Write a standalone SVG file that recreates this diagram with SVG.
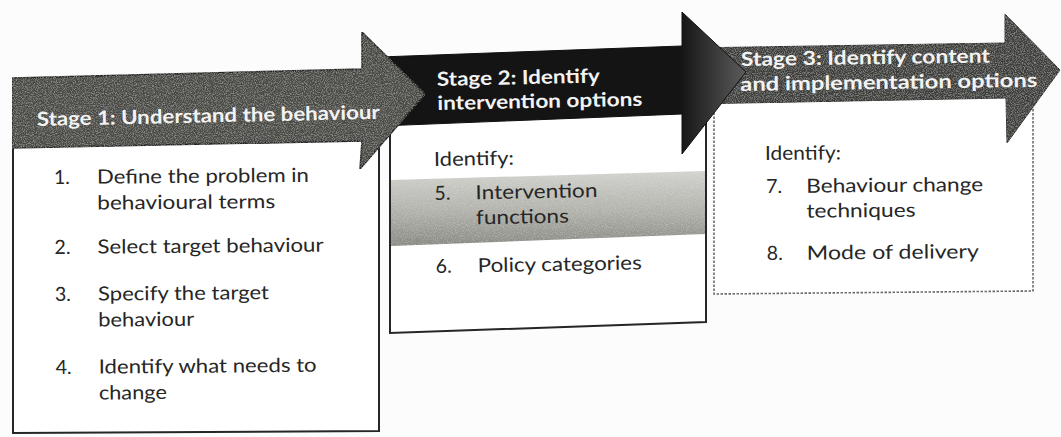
<svg xmlns="http://www.w3.org/2000/svg" width="1061" height="437" viewBox="0 0 1061 437">
  <style>
    .hd { font-family: Lato, "Open Sans", "Liberation Sans", sans-serif; font-weight: bold; font-size: 19.5px; fill: #f3f3f3; }
    .tx { font-family: Lato, "Open Sans", "Liberation Sans", sans-serif; font-size: 19.5px; fill: #262626; }
    .box { fill: #ffffff; stroke: #262626; stroke-width: 2; stroke-linejoin: miter; }
    .box-dot { fill: #ffffff; stroke: #6a6a6a; stroke-width: 1.6; stroke-dasharray: 2.5 1.5; }
  </style>
  <defs>
    <!-- faint speckle laid over the dark stage arrows -->
    <filter id="grain" x="0" y="0" width="100%" height="100%">
      <feTurbulence type="fractalNoise" baseFrequency="0.9" numOctaves="2" seed="7" result="n"/>
      <feColorMatrix in="n" type="matrix" values="0 0 0 0 0.85  0 0 0 0 0.85  0 0 0 0 0.82  0.7 0 0 0 -0.3" result="spk"/>
      <feComposite in="spk" in2="SourceGraphic" operator="in" result="spkIn"/>
      <feMerge><feMergeNode in="SourceGraphic"/><feMergeNode in="spkIn"/></feMerge>
    </filter>
    <linearGradient id="arrow2Fill" gradientUnits="userSpaceOnUse" x1="680" y1="0" x2="748" y2="0">
      <stop offset="0" stop-color="#141414"/>
      <stop offset="1" stop-color="#5e5e5e"/>
    </linearGradient>
    <linearGradient id="bandFill" x1="0" y1="0" x2="0" y2="1">
      <stop offset="0" stop-color="#d2d2ce"/>
      <stop offset="0.55" stop-color="#b0b0aa"/>
      <stop offset="1" stop-color="#888882"/>
    </linearGradient>
  </defs>

  <rect width="1061" height="437" fill="#fcfcfc"/>

  <!-- Stage 3 -->
  <g id="stage3">
    <polygon class="box-dot" points="714,100 1033,96 1033,291 714,294"/>
    <polygon points="690,48 1005,43 1005,14 1060,70 1007,143 1006,98 690,104" fill="#3e3e3b" stroke="#2a2a2a" stroke-width="1" filter="url(#grain)"/>
    <g transform="rotate(-0.8 740 66)">
      <text class="hd" x="741" y="66" textLength="249" lengthAdjust="spacingAndGlyphs">Stage 3: Identify content</text>
      <text class="hd" x="740" y="91" textLength="297" lengthAdjust="spacingAndGlyphs">and implementation options</text>
    </g>
    <g transform="rotate(-0.5 765 160)">
      <text class="tx" x="765" y="160" textLength="76" lengthAdjust="spacingAndGlyphs">Identify:</text>
      <text class="tx" x="766" y="193">7.</text>
      <text class="tx" x="806" y="193" textLength="177" lengthAdjust="spacingAndGlyphs">Behaviour change</text>
      <text class="tx" x="806" y="218" textLength="109" lengthAdjust="spacingAndGlyphs">techniques</text>
      <text class="tx" x="766" y="260">8.</text>
      <text class="tx" x="806" y="260" textLength="172" lengthAdjust="spacingAndGlyphs">Mode of delivery</text>
    </g>
  </g>

  <!-- Stage 2 -->
  <g id="stage2">
    <polygon class="box" points="390,122 706,112 706,322 390,333"/>
    <polygon points="391,180 705,171 705,234 391,246" fill="url(#bandFill)" filter="url(#grain)"/>
    <polygon points="380,57 682,46 682,12 746,72 682,154 682,114 380,126" fill="url(#arrow2Fill)" stroke="#101010" stroke-width="1"/>
    <g transform="rotate(-1.2 437 86)">
      <text class="hd" x="437" y="86" textLength="163" lengthAdjust="spacingAndGlyphs">Stage 2: Identify</text>
      <text class="hd" x="437" y="110" textLength="205" lengthAdjust="spacingAndGlyphs">intervention options</text>
    </g>
    <g transform="rotate(-1 434 166)">
      <text class="tx" x="434" y="166" textLength="80" lengthAdjust="spacingAndGlyphs">Identify:</text>
      <text class="tx" x="434" y="200">5.</text>
      <text class="tx" x="475" y="200" textLength="122" lengthAdjust="spacingAndGlyphs">Intervention</text>
      <text class="tx" x="475" y="225" textLength="93" lengthAdjust="spacingAndGlyphs">functions</text>
      <text class="tx" x="434" y="273">6.</text>
      <text class="tx" x="476" y="273" textLength="164" lengthAdjust="spacingAndGlyphs">Policy categories</text>
    </g>
  </g>

  <!-- Stage 1 -->
  <g id="stage1">
    <polygon class="box" points="13,147 379,140 379,431 13,433"/>
    <polygon points="12,78 362,69 362,32 425,94 360,169 362,141 12,148" fill="#4a4944" stroke="#242424" stroke-width="1.5" filter="url(#grain)"/>
    <g transform="rotate(-1.2 37 126)">
      <text class="hd" x="37" y="126" textLength="343" lengthAdjust="spacingAndGlyphs">Stage 1: Understand the behaviour</text>
    </g>
    <g transform="rotate(-0.5 54 184)">
      <text class="tx" x="54" y="184">1.</text>
      <text class="tx" x="97" y="184" textLength="212" lengthAdjust="spacingAndGlyphs">Define the problem in</text>
      <text class="tx" x="97" y="210" textLength="178" lengthAdjust="spacingAndGlyphs">behavioural terms</text>
      <text class="tx" x="54" y="254">2.</text>
      <text class="tx" x="97" y="254" textLength="226" lengthAdjust="spacingAndGlyphs">Select target behaviour</text>
      <text class="tx" x="54" y="301">3.</text>
      <text class="tx" x="97" y="301" textLength="171" lengthAdjust="spacingAndGlyphs">Specify the target</text>
      <text class="tx" x="97" y="327" textLength="96" lengthAdjust="spacingAndGlyphs">behaviour</text>
      <text class="tx" x="54" y="374">4.</text>
      <text class="tx" x="97" y="374" textLength="218" lengthAdjust="spacingAndGlyphs">Identify what needs to</text>
      <text class="tx" x="97" y="400" textLength="68" lengthAdjust="spacingAndGlyphs">change</text>
    </g>
  </g>

  <!-- stage arrows carry the flow; no separate connectors are drawn -->
  <g id="connectors"/>
</svg>
